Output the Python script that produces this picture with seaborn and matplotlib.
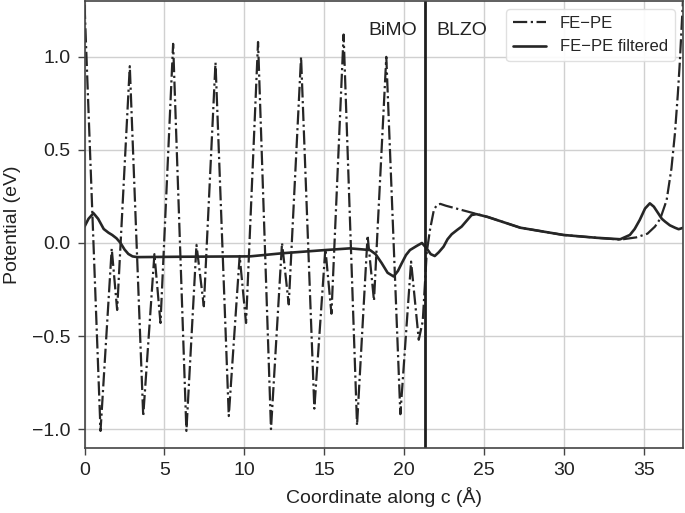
import matplotlib
matplotlib.use("Agg")
import matplotlib.pyplot as plt
import seaborn as sns
import pandas as pd

# FE-PE raw potential
fe_x = [0.0, 1.0, 1.7, 2.04, 2.83, 3.67, 4.37, 4.75, 5.54, 6.37, 7.0, 7.46,
        8.19, 9.02, 9.7, 10.1, 10.85, 11.66, 12.35, 12.77, 13.54, 14.37, 15.06,
        15.44, 16.2, 17.04, 17.7, 18.1, 18.87, 19.75, 20.42, 20.9, 21.15, 21.4,
        21.6, 21.85, 22.05, 22.25, 22.6, 25.2, 27.25, 29.95, 32.0, 33.5, 34.5,
        35.2, 35.67, 36.0, 36.4, 36.7, 36.92, 37.1, 37.23, 37.45]
fe_y = [1.28, -1.01, -0.03, -0.36, 0.95, -0.93, -0.06, -0.43, 1.07, -1.01, -0.01, -0.34,
        0.97, -0.93, -0.07, -0.43, 1.08, -1.0, 0.0, -0.33, 1.0, -0.89, -0.03,
        -0.38, 1.12, -0.98, 0.04, -0.31, 1.0, -0.92, -0.10, -0.52, -0.42, -0.05,
        0.07, 0.18, 0.205, 0.21, 0.2, 0.14, 0.082, 0.043, 0.028, 0.018, 0.03,
        0.05, 0.088, 0.13, 0.23, 0.4, 0.59, 0.8, 0.98, 1.35]

# FE-PE filtered potential
fl_x = [0.0, 0.25, 0.56, 0.85, 1.2, 1.5, 1.73, 2.0, 2.25, 2.5, 2.74, 3.0, 3.3,
        6.0, 10.35, 12.4, 15.06, 16.6, 17.85, 18.2, 18.58, 18.95, 19.33, 19.6,
        19.83, 20.1, 20.35, 20.77, 21.1, 21.4, 21.65, 21.9, 22.15, 22.45, 22.7,
        22.96, 23.3, 23.58, 23.9, 24.2, 24.5, 25.2, 27.25, 29.95, 32.0, 33.5,
        34.1, 34.4, 34.72, 35.05, 35.35, 35.6, 35.87, 36.1, 36.3, 36.6, 36.92,
        37.15, 37.45]
fl_y = [0.088, 0.13, 0.16, 0.13, 0.075, 0.055, 0.043, 0.025, 0.0, -0.035, -0.059, -0.072, -0.076,
        -0.074, -0.072, -0.055, -0.038, -0.029, -0.038, -0.06, -0.108, -0.16, -0.18, -0.15,
        -0.11, -0.065, -0.038, -0.016, 0.0, -0.03, -0.06, -0.07, -0.05, -0.02, 0.02,
        0.047, 0.07, 0.088, 0.12, 0.15, 0.155, 0.14, 0.082, 0.043, 0.028, 0.02,
        0.043, 0.075, 0.124, 0.185, 0.213, 0.195, 0.16, 0.13, 0.115, 0.095, 0.082,
        0.074, 0.082]

interface_x = 21.3
xticks = [0, 5, 10, 15, 20, 25, 30, 35]
yticks = [-1.0, -0.5, 0.0, 0.5, 1.0]

sns.set_theme(style="whitegrid")
plt.rcParams['font.family'] = ['Liberation Sans', 'DejaVu Sans']

fig = plt.figure(figsize=(6.85, 5.13), dpi=100)
ax = fig.add_axes([0.1234, 0.1273, 0.997 - 0.1234, 0.998 - 0.1273])

lc = "#262626"
df1 = pd.DataFrame({"x": fe_x, "y": fe_y})
df2 = pd.DataFrame({"x": fl_x, "y": fl_y})
sns.lineplot(data=df1, x="x", y="y", ax=ax, sort=False, estimator=None,
             color=lc, linestyle="-.", linewidth=1.6, label="FE\u2212PE")
sns.lineplot(data=df2, x="x", y="y", ax=ax, sort=False, estimator=None,
             color=lc, linestyle="-", linewidth=1.9, label="FE\u2212PE filtered")

ax.axvline(interface_x, color="#1e1e1e", linewidth=2.0)

ax.set_xlim(0, 37.42)
ax.set_ylim(-1.1, 1.3)
ax.set_xticks(xticks)
ax.set_yticks(yticks)
ax.set_xticklabels([str(t) for t in xticks])
ax.set_yticklabels(["\u22121.0", "\u22120.5", "0.0", "0.5", "1.0"])

ax.grid(True, color="#d0d0d0", linewidth=1.0)
for s in ax.spines.values():
    s.set_color("#444444")
    s.set_linewidth(1.2)
ax.tick_params(axis="both", which="major", direction="out", length=5, width=1.0,
               color="#444444", labelsize=14, labelcolor="#222222",
               bottom=True, left=True, pad=5)

ax.set_xlabel("Coordinate along c (\u00c5)", fontsize=14, color="#222222", labelpad=6)
ax.set_ylabel("Potential (eV)", fontsize=14, color="#222222", labelpad=8)

ax.text(20.8, 1.14, "BiMO", fontsize=14, ha="right", va="center", color="#222222")
ax.text(22.0, 1.14, "BLZO", fontsize=14, ha="left", va="center", color="#222222")

leg = ax.legend(loc="upper right", fontsize=12, frameon=True, handlelength=2.0)
leg.get_frame().set_edgecolor("#dddddd")
leg.get_frame().set_facecolor("white")
leg.get_frame().set_alpha(0.9)

fig.savefig("out.png", dpi=100)
